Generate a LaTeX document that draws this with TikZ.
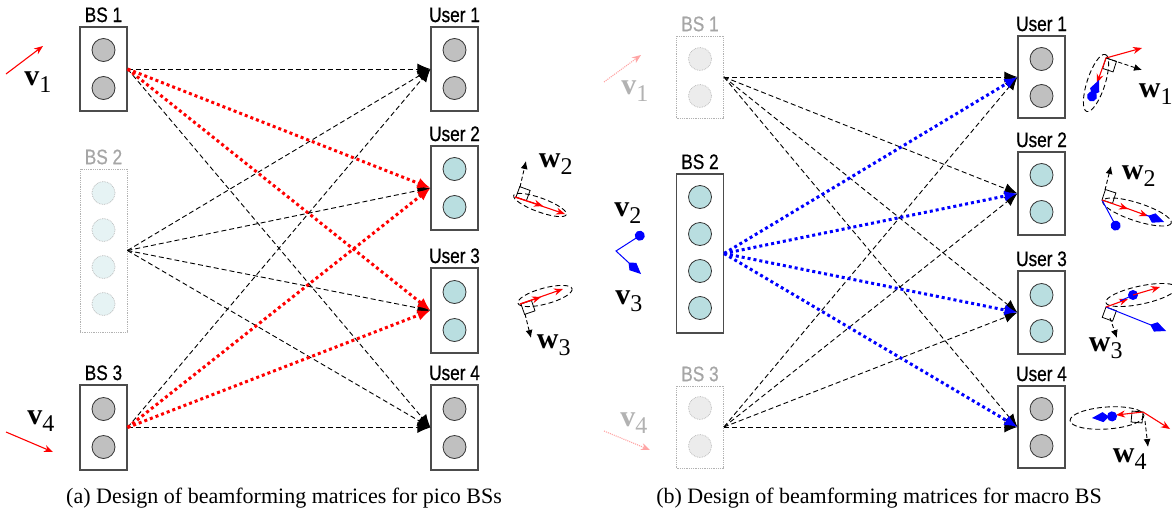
\documentclass[tikz,border=0pt]{standalone}
\usepackage{amsmath,amssymb}
\usepackage{fontspec}
\setmainfont{Liberation Serif}
\newfontfamily\lblfont[FakeStretch=0.82,FakeBold=0.6]{Liberation Sans}
\usetikzlibrary{arrows.meta,positioning}

\definecolor{antblue}{RGB}{185,222,224}
\definecolor{antgray}{RGB}{192,192,192}
\definecolor{fadeblue}{RGB}{230,243,244}
\definecolor{fadegray}{RGB}{236,236,236}
\definecolor{pinkred}{RGB}{255,165,165}

\tikzset{
  antbox/.style={draw=black!70, line width=1.1pt, minimum width=47pt, inner sep=0pt},
  fadebox/.style={draw=black!30, densely dotted, line width=0.8pt, minimum width=47pt, inner sep=0pt},
  ant/.style={circle, draw=black!80, line width=0.8pt, minimum size=23pt, inner sep=0pt},
  fadeant/.style={circle, draw=black!30, densely dotted, line width=0.7pt, minimum size=23pt, inner sep=0pt},
  boxlbl/.style={font=\lblfont\fontsize{21}{21}\selectfont, inner sep=0pt},
  veclbl/.style={font=\fontsize{30}{30}\selectfont, inner sep=0pt},
  link/.style={line width=0.9pt, dash pattern=on 5pt off 3pt, -{Latex[length=13pt,width=11pt]}},
  redlink/.style={red, line width=3pt, dash pattern=on 3pt off 3pt, -{Latex[length=13pt,width=11pt]}},
  bluelink/.style={blue, line width=3pt, dash pattern=on 3pt off 3pt, -{Latex[length=13pt,width=11pt]}},
  vecarr/.style={line width=1.1pt, -{Stealth[length=9pt,width=7pt]}},
  perp/.style={line width=0.9pt, dash pattern=on 4pt off 2.5pt, -{Latex[length=8pt,width=7pt]}},
  sqr/.style={line width=0.8pt},
  beam/.style={line width=0.9pt, dash pattern=on 5pt off 3pt},
  bluev/.style={blue, line width=1pt},
  dtip/.tip={Kite[length=17pt,width=10pt,inset=6pt]}
}
\newcommand{\bv}[2]{$\mathbf{#1}_{\mbox{\fontsize{24}{24}\selectfont #2}}$}

\begin{document}
\begin{tikzpicture}[x=1pt,y=-1pt]
  \useasboundingbox (0,0) rectangle (1172,517);

  % ---------- (a) pico BSs ----------
  \node[antbox, minimum height=84pt] (bsA1) at (103.5,69) {};
  \node[fadebox, minimum height=163pt] (bsA2) at (103.5,250.5) {};
  \node[antbox, minimum height=85pt] (bsA3) at (103.5,427.5) {};
  \node[boxlbl, above=4pt of bsA1] (bsA1l) {BS 1};
  \node[boxlbl, above=4pt of bsA2, text=black!35] (bsA2l) {BS 2};
  \node[boxlbl, above=4pt of bsA3] (bsA3l) {BS 3};
  \foreach \n/\yy in {1/50,2/88} \node[ant, fill=antgray] (bsA1a\n) at (103.5,\yy) {};
  \foreach \n/\yy in {1/193,2/230,3/267,4/304} \node[fadeant, fill=fadeblue] (bsA2a\n) at (103.5,\yy) {};
  \foreach \n/\yy in {1/409,2/447} \node[ant, fill=antgray] (bsA3a\n) at (103.5,\yy) {};

  \node[antbox, minimum height=84pt] (usrA1) at (454.5,69) {};
  \node[antbox, minimum height=84pt] (usrA2) at (454.5,188) {};
  \node[antbox, minimum height=85pt] (usrA3) at (454.5,310.5) {};
  \node[antbox, minimum height=85pt] (usrA4) at (454.5,427.5) {};
  \foreach \j in {1,...,4} \node[boxlbl, above=4pt of usrA\j] (usrA\j l) {User \j};
  \foreach \n/\yy in {1/50,2/88} \node[ant, fill=antgray] (usrA1a\n) at (454.5,\yy) {};
  \foreach \n/\yy in {1/169,2/207} \node[ant, fill=antblue] (usrA2a\n) at (454.5,\yy) {};
  \foreach \n/\yy in {1/292,2/330} \node[ant, fill=antblue] (usrA3a\n) at (454.5,\yy) {};
  \foreach \n/\yy in {1/409,2/447} \node[ant, fill=antgray] (usrA4a\n) at (454.5,\yy) {};

  \foreach \j in {1,4} \draw[link] (bsA1.east) -- (usrA\j.west);
  \foreach \j in {1,...,4} \draw[link] (bsA2.east) -- (usrA\j.west);
  \foreach \j in {1,4} \draw[link] (bsA3.east) -- (usrA\j.west);
  \foreach \j in {2,3} {
    \draw[redlink] (bsA1.east) -- (usrA\j.west);
    \draw[redlink] (bsA3.east) -- (usrA\j.west);
  }

  % precoders v
  \draw[vecarr, red] (6,74) -- (43,46);
  \node[veclbl] (vA1) at (38,82) {\bv{v}{1}};
  \draw[vecarr, red] (6,432) -- (53,452);
  \node[veclbl] (vA4) at (41,421) {\bv{v}{4}};

  % w2
  \draw[beam, rotate around={-20:(540,205)}] (540,205) ellipse [x radius=28, y radius=7];
  \draw[sqr, rotate around={-20:(516,197)}] (516,197) rectangle (527,186);
  \draw[vecarr, red] (515,197) -- (543,206);
  \draw[vecarr, red] (515,197) -- (565,214);
  \draw[perp] (520,187) -- (526,161);
  \node[veclbl] (wA2) at (556,164) {\bv{w}{2}};
  % w3
  \draw[beam, rotate around={15:(545,296)}] (545,296) ellipse [x radius=28, y radius=8];
  \draw[sqr, rotate around={19:(521,304)}] (521,304) rectangle (532,315);
  \draw[vecarr, red] (520,304) -- (541,297);
  \draw[vecarr, red] (520,304) -- (563,289);
  \draw[perp] (525,314) -- (531,338);
  \node[veclbl] (wA3) at (554,345) {\bv{w}{3}};

  \node[font=\fontsize{22}{22}\selectfont] (capA) at (284,498) {(a) Design of beamforming matrices for pico BSs};

  % ---------- (b) macro BS ----------
  \node[fadebox, minimum height=82pt] (bsB1) at (700,77) {};
  \node[antbox, minimum height=159pt] (bsB2) at (700,253.5) {};
  \node[fadebox, minimum height=82pt] (bsB3) at (700,427) {};
  \node[boxlbl, above=4pt of bsB1, text=black!35] (bsB1l) {BS 1};
  \node[boxlbl, above=4pt of bsB2] (bsB2l) {BS 2};
  \node[boxlbl, above=4pt of bsB3, text=black!35] (bsB3l) {BS 3};
  \foreach \n/\yy in {1/59,2/96} \node[fadeant, fill=fadegray] (bsB1a\n) at (700,\yy) {};
  \foreach \n/\yy in {1/197,2/234,3/271,4/308} \node[ant, fill=antblue] (bsB2a\n) at (700,\yy) {};
  \foreach \n/\yy in {1/408,2/446} \node[fadeant, fill=fadegray] (bsB3a\n) at (700,\yy) {};

  \node[antbox, minimum height=82pt] (usrB1) at (1041.5,77) {};
  \node[antbox, minimum height=83pt] (usrB2) at (1041.5,193.5) {};
  \node[antbox, minimum height=83pt] (usrB3) at (1041.5,312.5) {};
  \node[antbox, minimum height=82pt] (usrB4) at (1041.5,427) {};
  \foreach \j in {1,...,4} \node[boxlbl, above=4pt of usrB\j] (usrB\j l) {User \j};
  \foreach \n/\yy in {1/59,2/96} \node[ant, fill=antgray] (usrB1a\n) at (1041.5,\yy) {};
  \foreach \n/\yy in {1/175,2/212} \node[ant, fill=antblue] (usrB2a\n) at (1041.5,\yy) {};
  \foreach \n/\yy in {1/295,2/331} \node[ant, fill=antblue] (usrB3a\n) at (1041.5,\yy) {};
  \foreach \n/\yy in {1/409,2/446} \node[ant, fill=antgray] (usrB4a\n) at (1041.5,\yy) {};

  \foreach \j in {1,...,4} {
    \draw[link] (bsB1.east) -- (usrB\j.west);
    \draw[link] (bsB3.east) -- (usrB\j.west);
  }
  \foreach \j in {1,...,4} \draw[bluelink] (bsB2.east) -- (usrB\j.west);

  % precoders v
  \draw[vecarr, pinkred, densely dotted] (604,82) -- (641,55);
  \node[veclbl, text=black!30] (vB1) at (635,91) {\bv{v}{1}};
  \draw[bluev, {Circle[length=10pt]}-dtip] (644,233) -- (616,251) -- (641,274);
  \node[veclbl] (vB2) at (628,213) {\bv{v}{2}};
  \node[veclbl] (vB3) at (629,301) {\bv{v}{3}};
  \draw[vecarr, pinkred, densely dotted] (604,431) -- (650,450);
  \node[veclbl, text=black!30] (vB4) at (634,423) {\bv{v}{4}};

  % w1
  \draw[beam, rotate around={72:(1096,83)}] (1096,83) ellipse [x radius=30, y radius=9];
  \draw[sqr, rotate around={-18:(1106,58)}] (1106,58) rectangle (1117,69);
  \draw[vecarr, red] (1106,58) -- (1142,48);
  \draw[perp] (1106,58) -- (1142,70);
  \draw[vecarr, red] (1106,58) -- (1097,83);
  \draw[bluev, {Circle[length=10pt]}-dtip] (1090,101) -- (1099,80);
  \node[veclbl] (wB1) at (1156,94) {\bv{w}{1}};
  % w2
  \draw[beam, rotate around={-18:(1137,212)}] (1137,212) ellipse [x radius=36, y radius=9];
  \draw[sqr, rotate around={-18:(1102,200)}] (1102,200) rectangle (1113,189);
  \draw[perp] (1105,190) -- (1111,166);
  \draw[bluev, -{Circle[length=10pt]}] (1102,200) -- (1118,230);
  \draw[vecarr, red] (1102,200) -- (1128,209);
  \draw[vecarr, red] (1126,208) -- (1148,216);
  \draw[bluev, -dtip] (1146,215) -- (1164,222);
  \node[veclbl] (wB2) at (1139,176) {\bv{w}{2}};
  % w3
  \draw[beam, rotate around={12:(1141,295)}] (1141,295) ellipse [x radius=36, y radius=9];
  \draw[sqr, rotate around={-20:(1106,307)}] (1106,307) rectangle (1117,318);
  \draw[bluev, -dtip] (1106,307) -- (1166,331);
  \draw[vecarr, red] (1106,307) -- (1128,299);
  \draw[bluev] (1120,301) -- (1131,296);
  \fill[blue] (1133,295) circle (5pt);
  \draw[vecarr, red] (1133,295) -- (1160,287);
  \draw[perp] (1110,318) -- (1117,338);
  \node[veclbl] (wB3) at (1106,348) {\bv{w}{3}};
  % w4
  \draw[beam, rotate around={4:(1107,418)}] (1107,418) ellipse [x radius=37, y radius=11];
  \draw[sqr, rotate around={-5:(1143,412)}] (1143,412) rectangle (1132,423);
  \draw[vecarr, red] (1143,412) -- (1116,415);
  \draw[vecarr, red] (1143,412) -- (1170,429);
  \draw[bluev, {Circle[length=10pt]}-dtip] (1117,416) -- (1092,418);
  \draw[perp] (1145,421) -- (1148,447);
  \node[veclbl] (wB4) at (1130,459) {\bv{w}{4}};

  \node[font=\fontsize{22}{22}\selectfont] (capB) at (879,498) {(b) Design of beamforming matrices for macro BS};
\end{tikzpicture}
\end{document}
